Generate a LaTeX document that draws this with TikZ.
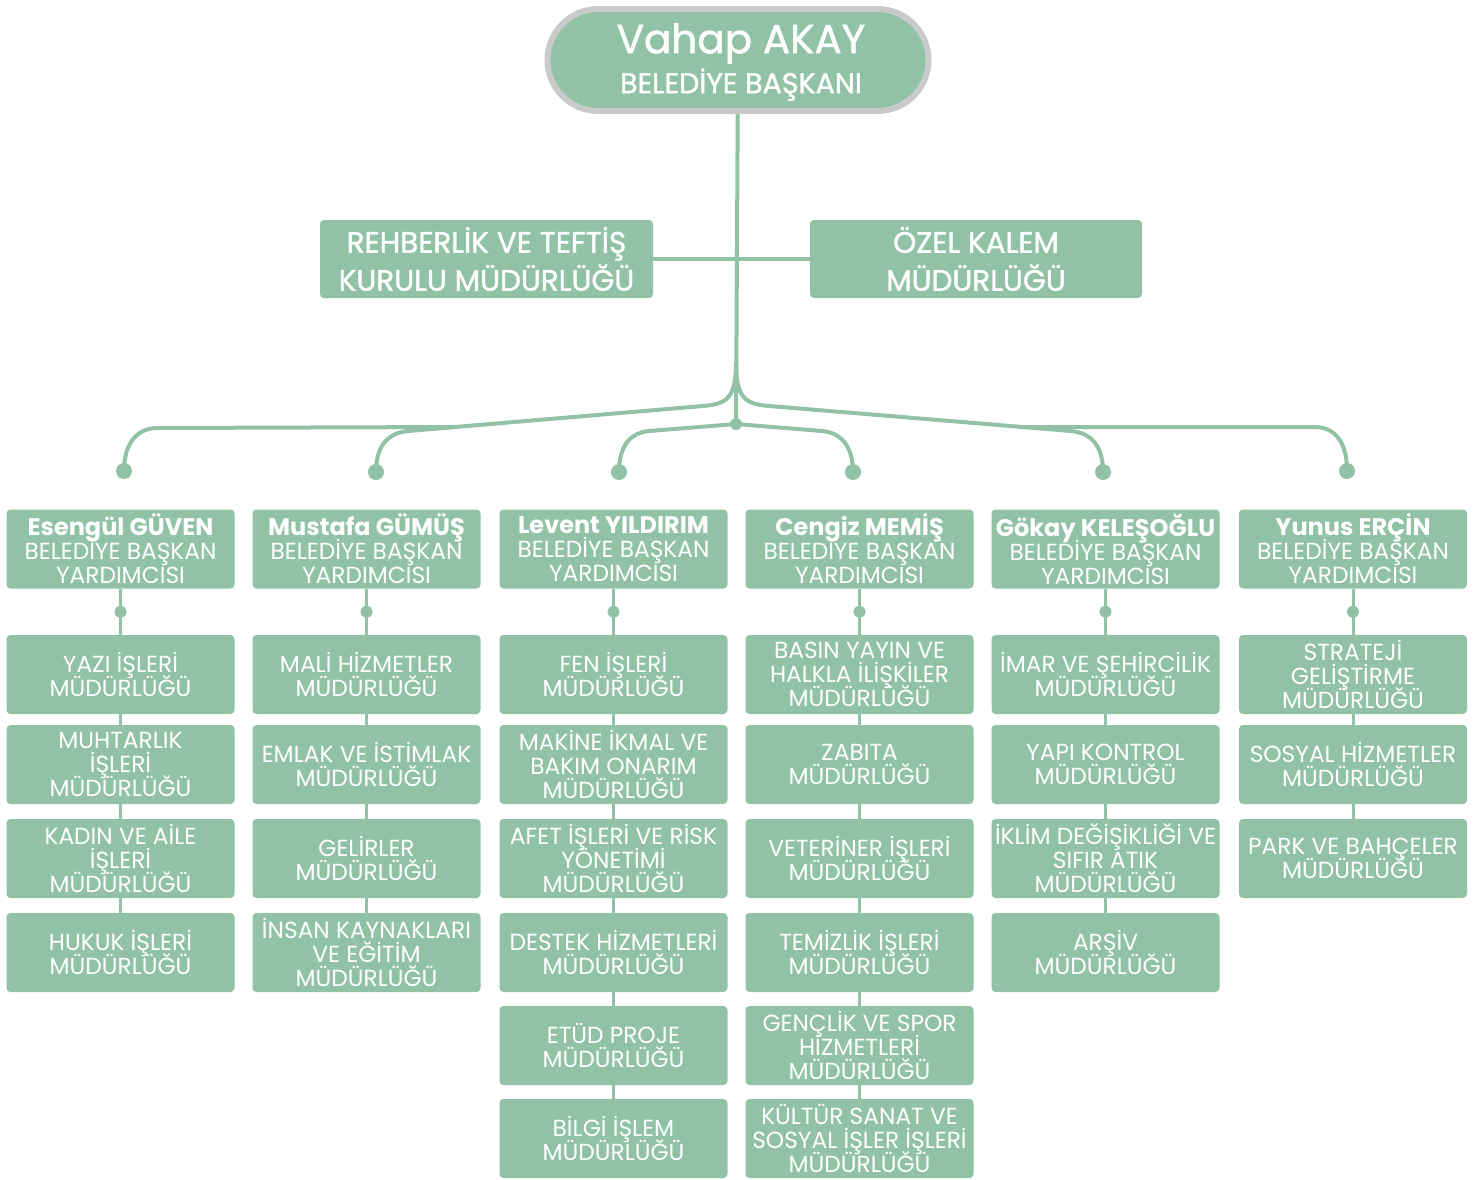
\documentclass[tikz,border=0pt]{standalone}
\usepackage{fontspec}
\setmainfont{Poppins}
\newfontfamily\medfont[FakeBold=1.3]{Poppins}
\definecolor{g}{HTML}{91C2A6}
\definecolor{rim}{HTML}{CACACA}
\newcommand\tightlines{\lineskiplimit=-30pt\relax\lineskip=0pt\relax}
\begin{document}
\begin{tikzpicture}[x=1pt,y=-1pt,
  box/.style={fill=g, rounded corners=4pt, text=white, align=center,
    minimum width=228pt, minimum height=79pt, inner sep=0pt,
    font=\fontsize{23.3}{24}\selectfont\tightlines},
  wide/.style={box, minimum width=333pt, minimum height=78pt,
    font=\medfont\fontsize{29.5}{38}\selectfont\tightlines},
  link/.style={draw=g, line width=3pt},
  conn/.style={draw=g, line width=4pt},
  bigdot/.style={circle, fill=g, minimum size=16pt, inner sep=0pt},
  smalldot/.style={circle, fill=g, minimum size=12pt, inner sep=0pt}]
\useasboundingbox (0,0) rectangle (1479,1179);

% top
\node[fill=g, draw=rim, line width=6pt, rounded corners=51pt,
  minimum width=381pt, minimum height=102pt, inner sep=0pt] (top) at (738,60) {};
\node[text=white, align=center, inner sep=0pt,
  font=\medfont\fontsize{28.5}{40}\selectfont\tightlines] (toptitle) at (741,62)
  {{\fontsize{40.5}{40}\selectfont Vahap AKAY}\\BELEDİYE BAŞKANI};

\node[wide] (reh) at (486.5,259) {REHBERLİK VE TEFTİŞ\\KURULU MÜDÜRLÜĞÜ};
\node[wide, minimum width=332pt] (ozel) at (976,259) {ÖZEL KALEM\\MÜDÜRLÜĞÜ};

\node[smalldot] (hub) at (736,424) {};
\draw[conn] (top) -- (hub);
\draw[conn] (reh) -- (ozel);

% dots above headings
\node[bigdot] (d1) at (124,471) {};
\node[bigdot] (d2) at (376,472) {};
\node[bigdot] (d3) at (619,472) {};
\node[bigdot] (d4) at (853,472) {};
\node[bigdot] (d5) at (1103,472) {};
\node[bigdot] (d6) at (1347,471) {};

\coordinate (L1) at (736,362);
\coordinate (L2) at (703,406);
\coordinate (M1) at (408,431);
\coordinate (E0) at (458,427);
\coordinate (E1) at (156,428);
\coordinate (R1) at (736,362);
\coordinate (R2) at (769,406);
\coordinate (G1) at (1071,431);
\coordinate (Y0) at (1018,427);
\coordinate (Y1) at (1316,427);
\coordinate (IL) at (649,431);
\coordinate (IR) at (822,431);

\draw[conn] (L1) .. controls (736,398) and (727,404) .. (L2) -- (M1)
  .. controls (386,433) and (376,448) .. (d2.center);
\draw[conn] (E0) -- (E1) .. controls (134,429) and (124,447) .. (d1.center);
\draw[conn] (R1) .. controls (736,398) and (745,404) .. (R2) -- (G1)
  .. controls (1093,433) and (1103,448) .. (d5.center);
\draw[conn] (Y0) -- (Y1) .. controls (1338,428) and (1347,446) .. (d6.center);
\draw[conn] (hub.center) -- (IL) .. controls (627,433) and (619,450) .. (d3.center);
\draw[conn] (hub.center) -- (IR) .. controls (844,433) and (853,450) .. (d4.center);

% column 1
\node[box] (h1) at (120.5,549) {{\bfseries\fontsize{24}{24}\selectfont Esengül GÜVEN}\\BELEDİYE BAŞKAN\\YARDIMCISI};
\node[box] (a1) at (120.5,674.5) {YAZI İŞLERİ\\MÜDÜRLÜĞÜ};
\node[box] (a2) at (120.5,764.5) {MUHTARLIK\\İŞLERİ\\MÜDÜRLÜĞÜ};
\node[box] (a3) at (120.5,858.5) {KADIN VE AİLE\\İŞLERİ\\MÜDÜRLÜĞÜ};
\node[box] (a4) at (120.5,952.5) {HUKUK İŞLERİ\\MÜDÜRLÜĞÜ};
\draw[link] (h1) -- node[smalldot]{} (a1);
\draw[link] (a1) -- (a2); \draw[link] (a2) -- (a3); \draw[link] (a3) -- (a4);

% column 2
\node[box] (h2) at (366.5,549) {{\bfseries\fontsize{24}{24}\selectfont Mustafa GÜMÜŞ}\\BELEDİYE BAŞKAN\\YARDIMCISI};
\node[box] (b1) at (366.5,674.5) {MALİ HİZMETLER\\MÜDÜRLÜĞÜ};
\node[box] (b2) at (366.5,764.5) {EMLAK VE İSTİMLAK\\MÜDÜRLÜĞÜ};
\node[box] (b3) at (366.5,858.5) {GELİRLER\\MÜDÜRLÜĞÜ};
\node[box] (b4) at (366.5,952.5) {İNSAN KAYNAKLARI\\VE EĞİTİM\\MÜDÜRLÜĞÜ};
\draw[link] (h2) -- node[smalldot]{} (b1);
\draw[link] (b1) -- (b2); \draw[link] (b2) -- (b3); \draw[link] (b3) -- (b4);

% column 3
\node[box] (h3) at (613.5,549) {{\bfseries\fontsize{24}{24}\selectfont Levent YILDIRIM}\\BELEDİYE BAŞKAN\\YARDIMCISI};
\node[box] (c1) at (613.5,674.5) {FEN İŞLERİ\\MÜDÜRLÜĞÜ};
\node[box] (c2) at (613.5,764.5) {MAKİNE İKMAL VE\\BAKIM ONARIM\\MÜDÜRLÜĞÜ};
\node[box] (c3) at (613.5,858.5) {AFET İŞLERİ VE RİSK\\YÖNETİMİ\\MÜDÜRLÜĞÜ};
\node[box] (c4) at (613.5,952.5) {DESTEK HİZMETLERİ\\MÜDÜRLÜĞÜ};
\node[box] (c5) at (613.5,1045.5) {ETÜD PROJE\\MÜDÜRLÜĞÜ};
\node[box] (c6) at (613.5,1138.5) {BİLGİ İŞLEM\\MÜDÜRLÜĞÜ};
\draw[link] (h3) -- node[smalldot]{} (c1);
\draw[link] (c1) -- (c2); \draw[link] (c2) -- (c3); \draw[link] (c3) -- (c4);
\draw[link] (c4) -- (c5); \draw[link] (c5) -- (c6);

% column 4
\node[box] (h4) at (859.5,549) {{\bfseries\fontsize{24}{24}\selectfont Cengiz MEMİŞ}\\BELEDİYE BAŞKAN\\YARDIMCISI};
\node[box] (e1) at (859.5,674.5) {BASIN YAYIN VE\\HALKLA İLİŞKİLER\\MÜDÜRLÜĞÜ};
\node[box] (e2) at (859.5,764.5) {ZABITA\\MÜDÜRLÜĞÜ};
\node[box] (e3) at (859.5,858.5) {VETERİNER İŞLERİ\\MÜDÜRLÜĞÜ};
\node[box] (e4) at (859.5,952.5) {TEMİZLİK İŞLERİ\\MÜDÜRLÜĞÜ};
\node[box] (e5) at (859.5,1045.5) {GENÇLİK VE SPOR\\HİZMETLERİ\\MÜDÜRLÜĞÜ};
\node[box] (e6) at (859.5,1138.5) {KÜLTÜR SANAT VE\\SOSYAL İŞLER İŞLERİ\\MÜDÜRLÜĞÜ};
\draw[link] (h4) -- node[smalldot]{} (e1);
\draw[link] (e1) -- (e2); \draw[link] (e2) -- (e3); \draw[link] (e3) -- (e4);
\draw[link] (e4) -- (e5); \draw[link] (e5) -- (e6);

% column 5
\node[box] (h5) at (1105.5,549) {{\bfseries\fontsize{24}{24}\selectfont Gökay KELEŞOĞLU}\\BELEDİYE BAŞKAN\\YARDIMCISI};
\node[box] (f1) at (1105.5,674.5) {İMAR VE ŞEHİRCİLİK\\MÜDÜRLÜĞÜ};
\node[box] (f2) at (1105.5,764.5) {YAPI KONTROL\\MÜDÜRLÜĞÜ};
\node[box] (f3) at (1105.5,858.5) {İKLİM DEĞİŞİKLİĞİ VE\\SIFIR ATIK\\MÜDÜRLÜĞÜ};
\node[box] (f4) at (1105.5,952.5) {ARŞİV\\MÜDÜRLÜĞÜ};
\draw[link] (h5) -- node[smalldot]{} (f1);
\draw[link] (f1) -- (f2); \draw[link] (f2) -- (f3); \draw[link] (f3) -- (f4);

% column 6
\node[box] (h6) at (1353,549) {{\bfseries\fontsize{24}{24}\selectfont Yunus ERÇİN}\\BELEDİYE BAŞKAN\\YARDIMCISI};
\node[box] (k1) at (1353,674.5) {STRATEJİ\\GELİŞTİRME\\MÜDÜRLÜĞÜ};
\node[box] (k2) at (1353,764.5) {SOSYAL HİZMETLER\\MÜDÜRLÜĞÜ};
\node[box] (k3) at (1353,858.5) {PARK VE BAHÇELER\\MÜDÜRLÜĞÜ};
\draw[link] (h6) -- node[smalldot]{} (k1);
\draw[link] (k1) -- (k2); \draw[link] (k2) -- (k3);
\end{tikzpicture}
\end{document}
